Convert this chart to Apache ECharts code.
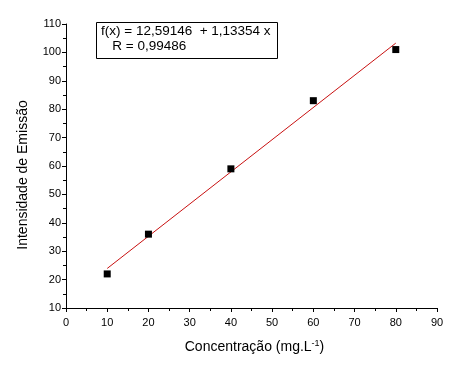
<!DOCTYPE html>
<html>
<head>
<meta charset="utf-8">
<script src="https://cdn.jsdelivr.net/npm/echarts@6/dist/echarts.min.js"></script>
<style>
  html, body { margin: 0; padding: 0; background: #fff; }
  #chart { width: 465px; height: 365px; }
</style>
</head>
<body>
<div id="chart"></div>
<script>
// measured points
const concentration = [10, 20, 40, 60, 80]
const intensity = [22, 36, 59, 83, 101]

// linear fit end points, f(x) = 12,59146 + 1,13354 x
const fitX = [10, 80]
const fitY = [23.93, 103.27]

const xTicks = { min: 0, max: 90, interval: 10 }
const yTicks = { min: 10, max: 110, interval: 10 }

const fitText = ['f(x) = 12,59146  + 1,13354 x', '   R = 0,99486']

const font = '"Liberation Sans", Arial, sans-serif'

const chart = echarts.init(document.getElementById('chart'))

const axisCommon = {
  axisLine: { show: true, lineStyle: { color: '#000', width: 1 } },
  axisTick: { show: true, length: 4, lineStyle: { color: '#000' } },
  minorTick: { show: true, splitNumber: 2, length: 3, lineStyle: { color: '#000' } },
  splitLine: { show: false },
  axisLabel: { color: '#000', fontFamily: font, fontSize: 11 },
}

chart.setOption({
  animation: false,
  grid: { left: 66, right: 28, top: 24, bottom: 57 },
  xAxis: {
    type: 'value',
    ...xTicks,
    ...axisCommon,
    axisLabel: { ...axisCommon.axisLabel, margin: 9 },
    name: '{n|Concentração (mg.L}{s|-1}{n|)}',
    nameLocation: 'middle',
    nameGap: 31,
    nameTextStyle: {
      padding: [0, 0, 0, 6],
      rich: {
        n: { fontFamily: font, fontSize: 14, color: '#000' },
        s: { fontFamily: font, fontSize: 9, color: '#000', verticalAlign: 'top', padding: [0, 0, 7, 0] },
      },
    },
  },
  yAxis: {
    type: 'value',
    ...yTicks,
    ...axisCommon,
    axisLabel: { ...axisCommon.axisLabel, margin: 5 },
    name: 'Intensidade de Emissão',
    nameLocation: 'middle',
    nameGap: 36,
    nameTextStyle: { fontFamily: font, fontSize: 14, color: '#000', padding: [0, 18, 0, 0] },
  },
  graphic: [
    {
      type: 'rect',
      left: 96,
      top: 22,
      shape: { width: 181, height: 36 },
      style: { fill: '#fff', stroke: '#000', lineWidth: 1 },
      z: 10,
    },
    {
      type: 'text',
      left: 101,
      top: 24,
      style: {
        text: fitText.join('\n'),
        fontFamily: font,
        fontSize: 13.5,
        lineHeight: 15,
        fill: '#000',
      },
      z: 11,
    },
  ],
  series: [
    {
      type: 'line',
      data: fitX.map((x, i) => [x, fitY[i]]),
      symbol: 'none',
      lineStyle: { color: '#c81010', width: 1 },
      z: 2,
    },
    {
      type: 'scatter',
      data: concentration.map((x, i) => [x, intensity[i]]),
      symbol: 'rect',
      symbolSize: 7,
      itemStyle: { color: '#000', opacity: 1 },
      z: 3,
    },
  ],
})
</script>
</body>
</html>
